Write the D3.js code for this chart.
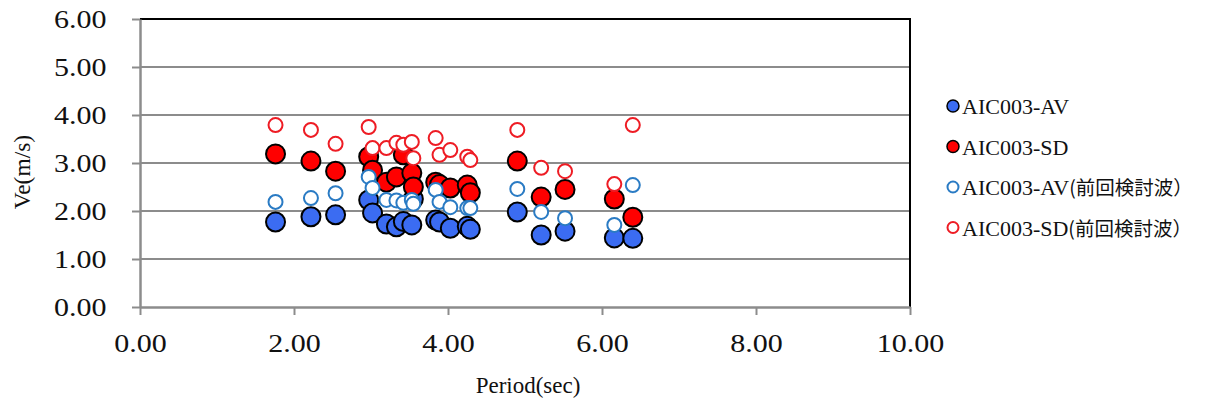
<!DOCTYPE html>
<html>
<head>
<meta charset="utf-8">
<script src="https://cdn.jsdelivr.net/npm/d3@7"></script>
<style>
  body { margin: 0; background: #fff; }
  text { font-family: "Liberation Serif", "Times New Roman", serif; fill: #111; }
  .jp { font-family: "Noto Sans CJK JP", "Liberation Serif", serif; }
</style>
</head>
<body>
<svg id="chart" width="1206" height="408"></svg>
<script>
// Ve vs period, four series sharing the same periods
const periods = [1.76, 2.22, 2.54, 2.97, 3.02, 3.20, 3.33, 3.42, 3.53, 3.55, 3.84, 3.89, 4.03, 4.25, 4.29, 4.90, 5.21, 5.52, 6.16, 6.40];
const av      = [1.77, 1.88, 1.92, 2.23, 1.96, 1.73, 1.67, 1.78, 1.71, 2.25, 1.81, 1.77, 1.64, 1.68, 1.62, 1.98, 1.50, 1.58, 1.44, 1.43];
const sd      = [3.19, 3.04, 2.83, 3.13, 2.85, 2.60, 2.71, 3.17, 2.79, 2.50, 2.60, 2.55, 2.48, 2.54, 2.38, 3.04, 2.29, 2.45, 2.25, 1.87];
const avPrev  = [2.19, 2.27, 2.37, 2.71, 2.48, 2.23, 2.22, 2.17, 2.23, 2.15, 2.44, 2.19, 2.08, 2.06, 2.06, 2.46, 1.98, 1.85, 1.71, 2.54];
const sdPrev  = [3.79, 3.69, 3.40, 3.75, 3.31, 3.31, 3.42, 3.38, 3.44, 3.10, 3.52, 3.17, 3.27, 3.13, 3.06, 3.69, 2.90, 2.83, 2.56, 3.79];

// legend labels: latin part + japanese suffix
const seriesNames = [["AIC003-AV", ""], ["AIC003-SD", ""], ["AIC003-AV", "(前回検討波）"], ["AIC003-SD", "(前回検討波）"]];
const xTicks = [0, 2, 4, 6, 8, 10];
const yTicks = [0, 1, 2, 3, 4, 5, 6];

const series = [
  { name: seriesNames[0], values: av,     fill: "#3b6cf2", stroke: "#000", r: 9.5, sw: 2 },
  { name: seriesNames[1], values: sd,     fill: "#ff0000", stroke: "#000", r: 9.5, sw: 2 },
  { name: seriesNames[2], values: avPrev, fill: "#fff",    stroke: "#2a7bc4", r: 7, sw: 2 },
  { name: seriesNames[3], values: sdPrev, fill: "#fff",    stroke: "#ee1c24", r: 7, sw: 2 },
];

const svg = d3.select("#chart");
const plotLeft = 140, plotRight = 910, plotTop = 19, plotBottom = 307;

const x = d3.scaleLinear().domain([0, 10]).range([plotLeft, plotRight]);
const y = d3.scaleLinear().domain([0, 6]).range([plotBottom, plotTop]);

// horizontal gridlines
svg.append("g").selectAll("line")
  .data(yTicks.filter(v => v > 0 && v < 6))
  .join("line")
  .attr("x1", plotLeft).attr("x2", plotRight)
  .attr("y1", d => y(d)).attr("y2", d => y(d))
  .attr("stroke", "#8c8c8c").attr("stroke-width", 2);

// black frame on top and right
svg.append("path")
  .attr("d", `M${plotLeft},${plotTop}H${plotRight}V${plotBottom}`)
  .attr("fill", "none").attr("stroke", "#000").attr("stroke-width", 2);

const xAxis = svg.append("g")
  .attr("transform", `translate(0,${plotBottom})`)
  .call(d3.axisBottom(x).tickValues(xTicks).tickFormat(d3.format(".2f")).tickSize(8).tickSizeOuter(0));
const yAxis = svg.append("g")
  .attr("transform", `translate(${plotLeft},0)`)
  .call(d3.axisLeft(y).tickValues(yTicks).tickFormat(d3.format(".2f")).tickSize(8).tickSizeOuter(0));

for (const ax of [xAxis, yAxis]) {
  ax.select(".domain").attr("stroke", "#8c8c8c").attr("stroke-width", 2.5);
  ax.selectAll(".tick line").attr("stroke", "#8c8c8c").attr("stroke-width", 2);
  ax.selectAll(".tick text")
    .attr("fill", "#111")
    .style("font-family", '"Liberation Serif", "Times New Roman", serif')
    .style("font-size", "25px");
}
xAxis.selectAll(".tick text").attr("y", 27).attr("dy", "0.71em").attr("transform", "scale(1.2,1)");
yAxis.selectAll(".tick text").attr("x", -28).attr("dy", "0.35em").attr("transform", "scale(1.2,1)");

// points
for (const s of series) {
  svg.append("g").selectAll("circle")
    .data(periods.map((p, i) => [p, s.values[i]]))
    .join("circle")
    .attr("cx", d => x(d[0]))
    .attr("cy", d => y(d[1]))
    .attr("r", s.r)
    .attr("fill", s.fill)
    .attr("stroke", s.stroke)
    .attr("stroke-width", s.sw);
}

// axis titles
svg.append("text")
  .attr("x", 528).attr("y", 393)
  .attr("text-anchor", "middle")
  .style("font-size", "23px")
  .text("Period(sec)");
svg.append("text")
  .attr("transform", "translate(30,172) rotate(-90)")
  .attr("text-anchor", "middle")
  .style("font-size", "23.5px")
  .text("Ve(m/s)");

// legend
const legend = svg.append("g");
series.forEach((s, i) => {
  const cy = 106 + i * 40.5;
  legend.append("circle")
    .attr("cx", 953).attr("cy", cy)
    .attr("r", i < 2 ? 6 : 5.5)
    .attr("fill", s.fill).attr("stroke", s.stroke)
    .attr("stroke-width", i < 2 ? 1.5 : 2);
  const t = legend.append("text")
    .attr("x", 962).attr("y", cy + 8)
    .style("font-size", "22px");
  t.append("tspan").text(s.name[0]);
  if (s.name[1]) {
    t.append("tspan").attr("class", "jp")
      .style("font-size", "19.5px")
      .text(s.name[1]);
  }
});
</script>
</body>
</html>
